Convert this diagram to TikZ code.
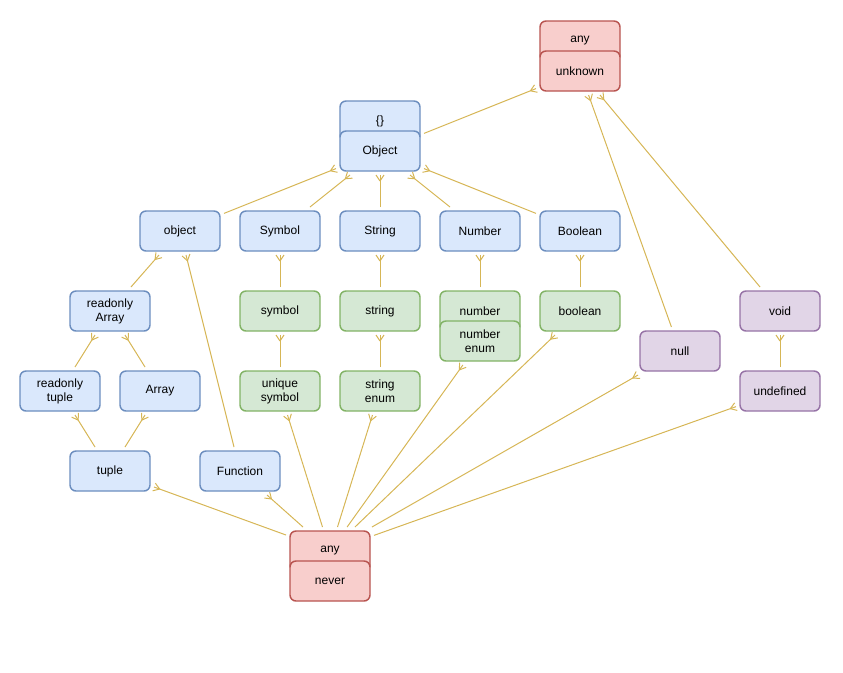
\documentclass[tikz,border=0pt]{standalone}
\usepackage{fontspec}
\setmainfont{Liberation Sans}
\usetikzlibrary{positioning,decorations.markings}

\definecolor{objfill}{HTML}{DAE8FC}
\definecolor{objline}{HTML}{6C8EBF}
\definecolor{primfill}{HTML}{D5E8D4}
\definecolor{primline}{HTML}{82B366}
\definecolor{topfill}{HTML}{F8CECC}
\definecolor{topline}{HTML}{B85450}
\definecolor{unitfill}{HTML}{E1D5E7}
\definecolor{unitline}{HTML}{9673A6}
\definecolor{linkc}{HTML}{D6B656}

\begin{document}
\begin{tikzpicture}[x=0.75pt,y=-0.75pt,on grid,node distance=60pt and 75pt,
    box/.style={draw,rounded corners=4.5pt,line width=1.1pt,minimum width=60pt,
        minimum height=30pt,inner sep=0pt,outer sep=3pt,align=center,
        font=\fontsize{9}{10.5}\selectfont},
    objbox/.style={box,draw=objline,fill=objfill},
    primbox/.style={box,draw=primline,fill=primfill},
    topbox/.style={box,draw=topline,fill=topfill},
    unitbox/.style={box,draw=unitline,fill=unitfill},
    link/.style={draw=linkc,line width=0.75pt,
        decoration={markings,mark=at position 1 with
            {\draw[linkc,line width=0.75pt] (-4.5pt,0) -- (0,3pt) (-4.5pt,0) -- (0,-3pt);}},
        postaction=decorate}]
    \useasboundingbox (0,0) rectangle (843,672);

    % top types
    \node[topbox]  (anyt)  at (580,41)                        {any};
    \node[topbox]  (unk)   [below=22.5pt of anyt]             {unknown};

    % object side
    \node[objbox]  (emp)   at (380,121)                       {\{\}};
    \node[objbox]  (objc)  [below=22.5pt of emp]              {Object};
    \node[objbox]  (strc)  [below=of objc]                    {String};
    \node[objbox]  (symc)  [left=of strc]                     {Symbol};
    \node[objbox]  (objl)  [left=of symc]                     {object};
    \node[objbox]  (numc)  [right=of strc]                    {Number};
    \node[objbox]  (booc)  [right=of numc]                    {Boolean};
    \node[objbox]  (rarr)  [below left=60pt and 52.5pt of objl] {readonly\\Array};
    \node[objbox]  (rtup)  [below left=60pt and 37.5pt of rarr] {readonly\\tuple};
    \node[objbox]  (arr)   [right=of rtup]                    {Array};
    \node[objbox]  (tup)   [below right=60pt and 37.5pt of rtup] {tuple};
    \node[objbox]  (func)  [right=97.5pt of tup]              {Function};

    % primitives
    \node[primbox] (syml)  [below=of symc]                    {symbol};
    \node[primbox] (strl)  [below=of strc]                    {string};
    \node[primbox] (numl)  [below=of numc]                    {number};
    \node[primbox] (nenum) [below=22.5pt of numl]             {number\\enum};
    \node[primbox] (bool)  [below=of booc]                    {boolean};
    \node[primbox] (usym)  [below=of syml]                    {unique\\symbol};
    \node[primbox] (senum) [below=of strl]                    {string\\enum};

    % unit types
    \node[unitbox] (voidn) [right=150pt of bool]              {void};
    \node[unitbox] (undef) [below=of voidn]                   {undefined};
    \node[unitbox] (nul)   [below right=30pt and 75pt of bool] {null};

    % bottom types
    \node[topbox]  (anyb)  [below right=60pt and 67.5pt of func] {any};
    \node[topbox]  (nev)   [below=22.5pt of anyb]             {never};

    \path   (objc)  edge[link] (unk)
            (nul)   edge[link] (unk)
            (voidn) edge[link] (unk)
            (objl)  edge[link] (objc)
            (symc)  edge[link] (objc)
            (strc)  edge[link] (objc)
            (numc)  edge[link] (objc)
            (booc)  edge[link] (objc)
            (rarr)  edge[link] (objl)
            (func)  edge[link] (objl)
            (syml)  edge[link] (symc)
            (strl)  edge[link] (strc)
            (numl)  edge[link] (numc)
            (bool)  edge[link] (booc)
            (usym)  edge[link] (syml)
            (senum) edge[link] (strl)
            (undef) edge[link] (voidn)
            (rtup)  edge[link] (rarr)
            (arr)   edge[link] (rarr)
            (tup)   edge[link] (rtup)
            (tup)   edge[link] (arr)
            (anyb)  edge[link] (tup)
            (anyb)  edge[link] (func)
            (anyb)  edge[link] (usym)
            (anyb)  edge[link] (senum)
            (anyb)  edge[link] (nenum)
            (anyb)  edge[link] (bool)
            (anyb)  edge[link] (nul)
            (anyb)  edge[link] (undef)
            ;
\end{tikzpicture}
\end{document}
